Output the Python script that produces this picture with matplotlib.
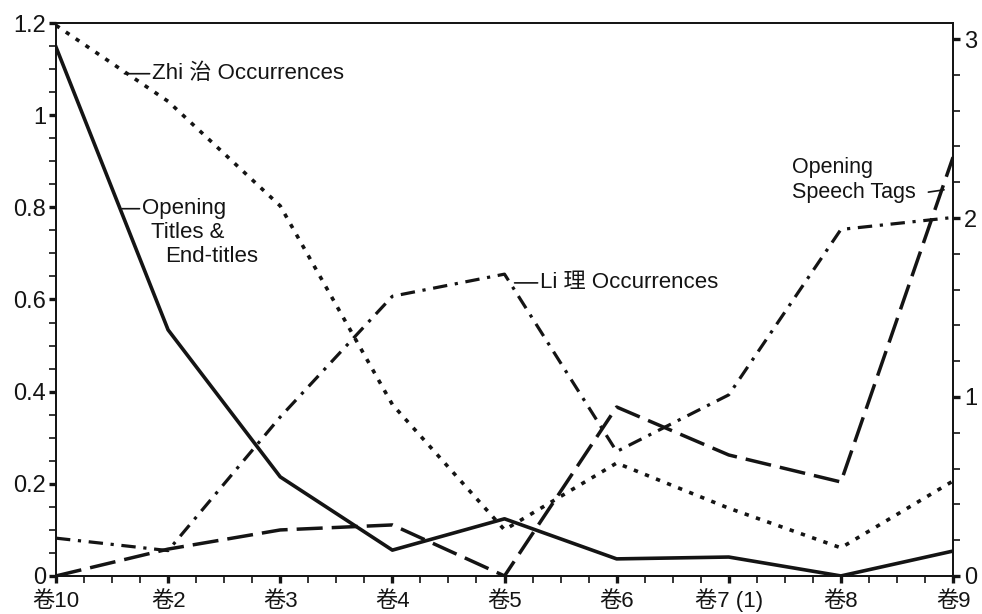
import matplotlib
matplotlib.use("Agg")
import matplotlib.pyplot as plt
from matplotlib.ticker import MultipleLocator, FixedLocator

plt.rcParams['font.family'] = ['Liberation Sans', 'Noto Sans CJK SC', 'DejaVu Sans']

# chapters (juan) in the order shown
chapters = ["卷10", "卷2", "卷3", "卷4", "卷5", "卷6", "卷7 (1)", "卷8", "卷9"]

# left axis series
titles = [1.148, 0.534, 0.215, 0.056, 0.124, 0.037, 0.041, 0.0, 0.054]
zhi = [1.195, 1.03, 0.803, 0.372, 0.10, 0.245, 0.147, 0.061, 0.206]
li = [0.082, 0.055, 0.345, 0.607, 0.655, 0.27, 0.393, 0.752, 0.778]

# right axis series
speech = [0.0, 0.15, 0.257, 0.285, 0.0, 0.944, 0.676, 0.525, 2.34]

x = list(range(len(chapters)))

fig = plt.figure(figsize=(9.82, 6.14), dpi=100)
ax = fig.add_axes([0.057, 0.062, 0.9135, 0.9005])
ax2 = ax.twinx()

k = "#141414"
ax.plot(x, titles, color=k, lw=2.6, solid_joinstyle="round")
ax.plot(x, zhi, color=k, lw=2.6, linestyle=(0, (1.2, 2.1)))
ax.plot(x, li, color=k, lw=2.3, linestyle=(0, (4.5, 2.4, 1.0, 2.4)))
ax2.plot(x, speech, color=k, lw=2.5, linestyle=(0, (7.5, 2.6)))

ax.set_xlim(0, 8)
ax.set_ylim(0, 1.2)
ax2.set_ylim(0, 3.09)

ax.set_xticks(x)
ax.set_xticklabels(chapters)
ax.xaxis.set_minor_locator(MultipleLocator(0.25))
ax.yaxis.set_major_locator(FixedLocator([0, 0.2, 0.4, 0.6, 0.8, 1.0, 1.2]))
ax.yaxis.set_minor_locator(MultipleLocator(0.05))
ax.set_yticklabels(["0", "0.2", "0.4", "0.6", "0.8", "1", "1.2"])

ax2.yaxis.set_major_locator(FixedLocator([0, 1, 2, 3]))
ax2.yaxis.set_minor_locator(MultipleLocator(0.2))

for a in (ax, ax2):
    for s in a.spines.values():
        s.set_linewidth(1.3)
        s.set_color(k)

ax.tick_params(axis="both", which="major", direction="out", length=5, width=2.4,
               labelsize=17, pad=2, colors=k)
ax.tick_params(axis="both", which="minor", direction="out", length=5, width=1.2, colors=k)
ax.tick_params(axis="x", which="major", labelsize=16, pad=17.3)
ax.tick_params(axis="y", right=False)
ax2.tick_params(axis="y", which="major", direction="out", length=5, width=2.4,
                labelsize=17, pad=3, colors=k)
ax2.tick_params(axis="y", which="minor", direction="out", length=5, width=1.2, colors=k)

# keep all chapter labels on one baseline
for lbl in ax.get_xticklabels():
    lbl.set_verticalalignment("baseline")

lead = dict(arrowstyle="-", lw=1.2, color=k, shrinkA=0, shrinkB=0)
fs = 16

ax.annotate("Zhi 治 Occurrences", xy=(0.61, 1.09), xytext=(0.86, 1.09),
            ha="left", va="center", fontsize=fs, color=k, arrowprops=lead)

ax.annotate("Opening", xy=(0.59, 0.797), xytext=(0.77, 0.797),
            ha="left", va="center", fontsize=fs, color=k, arrowprops=lead)
ax.text(0.85, 0.745, "Titles &", ha="left", va="center", fontsize=fs, color=k)
ax.text(0.97, 0.693, "End-titles", ha="left", va="center", fontsize=fs, color=k)

ax.annotate("Li 理 Occurrences", xy=(4.09, 0.636), xytext=(4.32, 0.636),
            ha="left", va="center", fontsize=fs, color=k, arrowprops=lead)

ax.text(6.56, 0.887, "Opening", ha="left", va="center", fontsize=15.5, color=k)
ax.text(6.56, 0.833, "Speech Tags", ha="left", va="center", fontsize=15.5, color=k)
ax.annotate("", xy=(7.92, 0.838), xytext=(7.78, 0.833), arrowprops=lead)

fig.savefig("out.png", dpi=100)
